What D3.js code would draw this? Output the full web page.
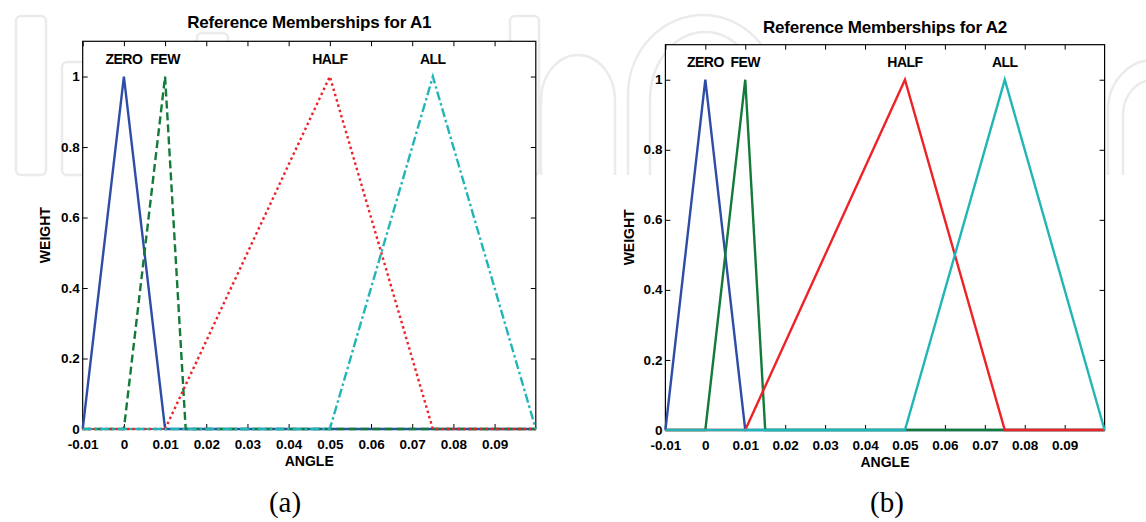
<!DOCTYPE html>
<html>
<head>
<meta charset="utf-8">
<script src="https://cdn.jsdelivr.net/npm/d3@7"></script>
<style>
  html, body { margin: 0; padding: 0; background: #fff; }
  svg { display: block; }
</style>
</head>
<body>
<svg id="chart" width="1146" height="522"></svg>
<script>
// ---------------- data ----------------
const mfNames = ["ZERO", "FEW", "HALF", "ALL"];
// triangle parameters [a, b, c] for each membership function
const mfParamsA1 = [[-0.01, 0, 0.01], [0, 0.01, 0.015], [0.01, 0.05, 0.075], [0.05, 0.075, 0.1]];
const mfParamsA2 = [[-0.01, 0, 0.01], [0, 0.01, 0.015], [0.01, 0.05, 0.075], [0.05, 0.075, 0.1]];
const labelPos = [0, 0.01, 0.05, 0.075];
const labelWeight = 1.05;
const xDomain = [-0.01, 0.1];
const yDomain = [0, 1.1];
const xTicks = [-0.01, 0, 0.01, 0.02, 0.03, 0.04, 0.05, 0.06, 0.07, 0.08, 0.09];
const xTickLabels = ["-0.01", "0", "0.01", "0.02", "0.03", "0.04", "0.05", "0.06", "0.07", "0.08", "0.09"];
const yTicks = [0, 0.2, 0.4, 0.6, 0.8, 1];
const yTickLabels = ["0", "0.2", "0.4", "0.6", "0.8", "1"];
const titles = ["Reference Memberships for A1", "Reference Memberships for A2"];
const captions = ["(a)", "(b)"];
const xLabel = "ANGLE";
const yLabel = "WEIGHT";

// ---------------- styles ----------------
const SANS = "'Liberation Sans', Arial, Helvetica, sans-serif";
const SERIF = "'Liberation Serif', 'DejaVu Serif', serif";
const colors = ["#2d4da6", "#137a3a", "#ee2327", "#22b5b8"];
const dashA = [null, "8,4", "2.5,3", "9,3,2.5,3"];
const dashB = [null, null, null, null];

const svg = d3.select("#chart");

// faint background watermark (decoration)
const wm = svg.append("g").attr("fill", "none").attr("stroke", "#ebebeb").attr("stroke-width", 2.5);
wm.append("rect").attr("x", 16).attr("y", 16).attr("width", 30).attr("height", 159).attr("rx", 5);
wm.append("rect").attr("x", 62).attr("y", 62).attr("width", 60).attr("height", 113).attr("rx", 5);
wm.append("rect").attr("x", 197).attr("y", 33).attr("width", 31).attr("height", 142).attr("rx", 5);
wm.append("rect").attr("x", 510).attr("y", 16).attr("width", 29).attr("height", 159).attr("rx", 5);
wm.append("path").attr("d", "M541,175 V100 A37,45 0 0 1 615,100 V175");
wm.append("path").attr("d", "M628,175 V95 A75,80 0 0 1 778,95 V175");
wm.append("path").attr("d", "M650,175 V100 A55,68 0 0 1 760,100 V175");
wm.append("path").attr("d", "M1108,175 V110 A45,50 0 0 1 1198,110 V175");
wm.append("path").attr("d", "M1123,175 V115 A30,35 0 0 1 1183,115 V175");

const panels = [
  { params: mfParamsA1, dash: dashA, xr: [82.7, 535.8], yr: [429, 41.3], titleY: 28, angleY: 466, weightX: 50, capX: 285 },
  { params: mfParamsA2, dash: dashB, xr: [665.4, 1104.6], yr: [430, 44.7], titleY: 33, angleY: 467, weightX: 634, capX: 887 }
];

panels.forEach((p, pi) => {
  const x = d3.scaleLinear().domain(xDomain).range(p.xr);
  const y = d3.scaleLinear().domain(yDomain).range(p.yr);
  const g = svg.append("g");

  // plot background and box
  g.append("rect")
    .attr("x", x(xDomain[0])).attr("y", y(yDomain[1]))
    .attr("width", x(xDomain[1]) - x(xDomain[0]))
    .attr("height", y(yDomain[0]) - y(yDomain[1]))
    .attr("fill", "#fff").attr("stroke", "#000").attr("stroke-width", 1.2);

  const fmtX = d => xTickLabels[xTicks.indexOf(d)];
  const fmtY = d => yTickLabels[yTicks.indexOf(d)];

  const axB = g.append("g").attr("transform", `translate(0,${y(0)})`)
    .call(d3.axisBottom(x).tickValues(xTicks).tickFormat(fmtX).tickSizeInner(-5).tickSizeOuter(0).tickPadding(10.4));
  const axT = g.append("g").attr("transform", `translate(0,${y(yDomain[1])})`)
    .call(d3.axisTop(x).tickValues(xTicks).tickFormat("").tickSizeInner(-5).tickSizeOuter(0));
  const axL = g.append("g").attr("transform", `translate(${x(xDomain[0])},0)`)
    .call(d3.axisLeft(y).tickValues(yTicks).tickFormat(fmtY).tickSizeInner(-5).tickSizeOuter(0).tickPadding(3));
  const axR = g.append("g").attr("transform", `translate(${x(xDomain[1])},0)`)
    .call(d3.axisRight(y).tickValues(yTicks).tickFormat("").tickSizeInner(-5).tickSizeOuter(0));
  [axB, axT, axL, axR].forEach(a => {
    a.select(".domain").remove();
    a.selectAll("line").attr("stroke", "#000").attr("stroke-width", 1);
    a.selectAll("text").attr("fill", "#000")
      .style("font-family", SANS).style("font-size", "13.5px").style("font-weight", "bold");
  });
  axL.selectAll("text").attr("dy", "0.3em");

  // membership lines
  const line = d3.line().x(d => x(d[0])).y(d => y(d[1]));
  p.params.forEach((tri, i) => {
    const pts = [[xDomain[0], 0], [tri[0], 0], [tri[1], 1], [tri[2], 0], [xDomain[1], 0]];
    const path = g.append("path").datum(pts)
      .attr("d", line)
      .attr("fill", "none")
      .attr("stroke", colors[i])
      .attr("stroke-width", 2.4)
      .attr("stroke-linejoin", "miter");
    if (p.dash[i]) path.attr("stroke-dasharray", p.dash[i]);
  });

  // MF labels
  mfNames.forEach((n, i) => {
    g.append("text")
      .attr("x", x(labelPos[i])).attr("y", y(labelWeight))
      .attr("dy", "0.35em")
      .attr("text-anchor", "middle")
      .style("font-family", SANS).style("font-size", "14px").style("font-weight", "bold")
      .style("letter-spacing", "-0.5px")
      .text(n);
  });

  const cx = (x(xDomain[0]) + x(xDomain[1])) / 2;
  const cy = (y(yDomain[0]) + y(yDomain[1])) / 2;

  g.append("text")
    .attr("x", cx).attr("y", p.titleY)
    .attr("text-anchor", "middle")
    .style("font-family", SANS).style("font-size", "17px").style("font-weight", "bold")
    .style("letter-spacing", "-0.2px")
    .text(titles[pi]);

  g.append("text")
    .attr("x", cx).attr("y", p.angleY)
    .attr("text-anchor", "middle")
    .style("font-family", SANS).style("font-size", "14px").style("font-weight", "bold")
    .text(xLabel);

  g.append("text")
    .attr("transform", `translate(${p.weightX},${cy}) rotate(-90)`)
    .attr("text-anchor", "middle")
    .style("font-family", SANS).style("font-size", "14px").style("font-weight", "bold")
    .text(yLabel);

  g.append("text")
    .attr("x", p.capX).attr("y", 512)
    .attr("text-anchor", "middle")
    .style("font-family", SERIF).style("font-size", "29px")
    .text(captions[pi]);
});
</script>
</body>
</html>
